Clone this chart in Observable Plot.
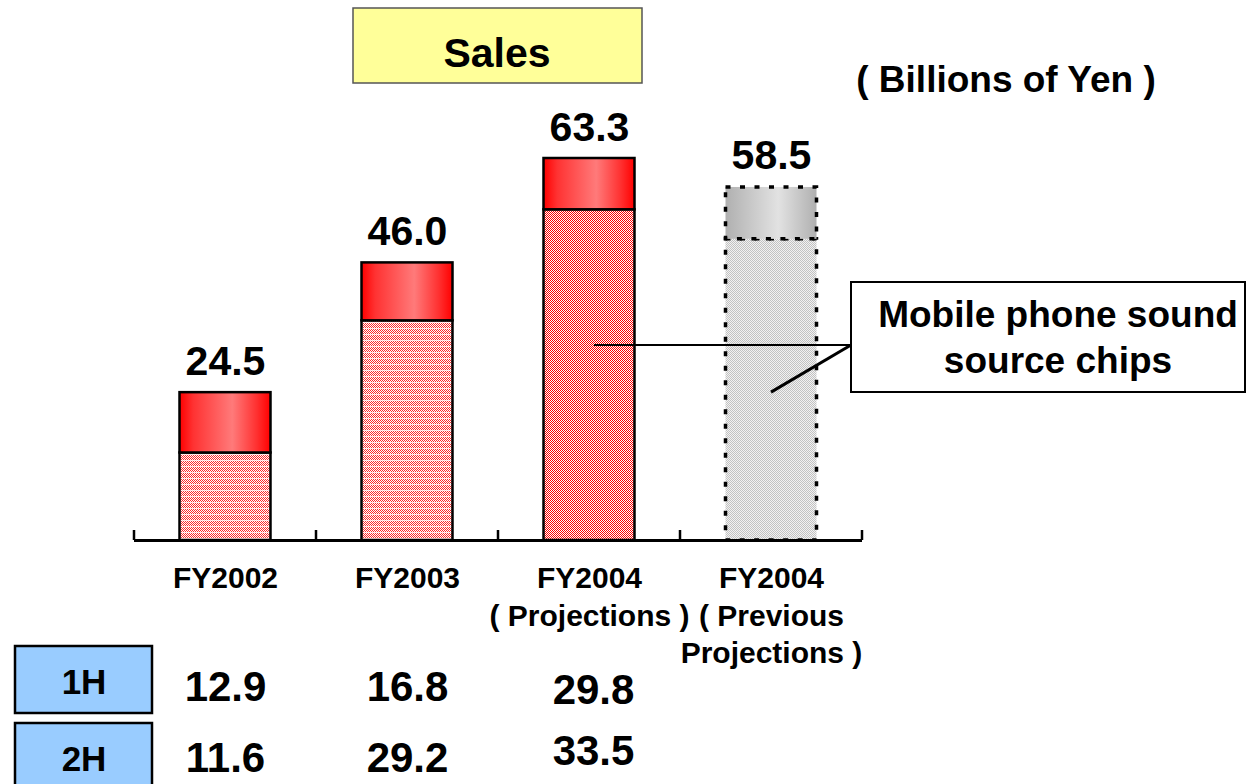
<!DOCTYPE html>
<html><head><meta charset="utf-8">
<script src="https://cdn.jsdelivr.net/npm/d3@7"></script>
<script src="https://cdn.jsdelivr.net/npm/@observablehq/plot@0.6"></script>
<style>
html,body{margin:0;padding:0;background:#fff;}
#chart svg{display:block;}
</style></head><body><div id="chart"></div>
<script>
// ---- data ----
const categories = ["FY2002", "FY2003", "FY2004 (Projections)", "FY2004 (Previous Projections)"];
const tickLabels = ["FY2002", "FY2003", "FY2004\n( Projections )", "FY2004\n( Previous\nProjections )"];
const totals = [24.5, 46.0, 63.3, 58.5];
const soundChips = [14.5, 36.4, 54.8, 49.9];
const firstHalf = [12.9, 16.8, 29.8];
const secondHalf = [11.6, 29.2, 33.5];
const rowLabels = ["1H", "2H"];
const titleText = "Sales";
const unitText = "( Billions of Yen )";
const calloutLines = ["Mobile phone sound", "source chips"];

const rows = categories.map((c, i) => ({category: c, label: tickLabels[i], total: totals[i], chips: soundChips[i]}));
const h1 = firstHalf.map((v, i) => ({category: categories[i], v}));
const h2 = secondHalf.map((v, i) => ({category: categories[i], v}));

const font = "'Liberation Sans', Arial, sans-serif";
const solidStroke = {stroke: "black", strokeWidth: 2.5};
const dashStroke = {stroke: "black", strokeWidth: 3.5, strokeDasharray: "5,9.5"};
const bold = {fontWeight: "bold", fill: "black"};

const plot = Plot.plot({
  width: 1247, height: 784,
  marginLeft: 134, marginRight: 385, marginTop: 158, marginBottom: 244,
  style: {fontFamily: font, background: "white", overflow: "visible"},
  x: {domain: categories, paddingInner: 0.5, paddingOuter: 0.25, round: false, axis: null},
  y: {domain: [0, d3.max(totals)], axis: null},
  marks: [
    // bottom segments (sound source chips)
    Plot.barY(rows.slice(0, 2), {x: "category", y1: () => 0, y2: "chips", fill: "url(#pinkStripe)", ...solidStroke}),
    Plot.barY(rows.slice(2, 3), {x: "category", y1: () => 0, y2: "chips", fill: "url(#redCheck)", ...solidStroke}),
    Plot.barY(rows.slice(3), {x: "category", y1: () => 0, y2: "chips", fill: "url(#grayCheck)", ...dashStroke}),
    // top segments
    Plot.barY(rows.slice(0, 3), {x: "category", y1: "chips", y2: "total", fill: "url(#redGrad)", ...solidStroke}),
    Plot.barY(rows.slice(3), {x: "category", y1: "chips", y2: "total", fill: "url(#grayGrad)", ...dashStroke}),
    // baseline
    Plot.ruleY([0], {stroke: "black", strokeWidth: 3}),
    // total labels
    Plot.text(rows, {x: "category", y: "total", text: d => d.total.toFixed(1), lineAnchor: "bottom", dy: -18, fontSize: 41, ...bold}),
    // category labels
    Plot.text(rows, {x: "category", text: "label", frameAnchor: "bottom", lineAnchor: "top", lineHeight: 1.25, dy: 21, fontSize: 30, ...bold}),
    // 1H / 2H values
    Plot.text(h1.slice(0, 2), {x: "category", text: d => d.v.toFixed(1), frameAnchor: "bottom", lineAnchor: "bottom", dy: 160, fontSize: 42, ...bold}),
    Plot.text(h1.slice(2), {x: "category", text: d => d.v.toFixed(1), frameAnchor: "bottom", lineAnchor: "bottom", dy: 163, dx: 4, fontSize: 42, ...bold}),
    Plot.text(h2.slice(0, 2), {x: "category", text: d => d.v.toFixed(1), frameAnchor: "bottom", lineAnchor: "bottom", dy: 231, fontSize: 42, ...bold}),
    Plot.text(h2.slice(2), {x: "category", text: d => d.v.toFixed(1), frameAnchor: "bottom", lineAnchor: "bottom", dy: 224, dx: 4, fontSize: 42, ...bold})
  ]
});

document.getElementById("chart").appendChild(plot);

// ---- defs: patterns & gradients ----
const svg = d3.select(plot);
const defs = svg.insert("defs", ":first-child");
function check(id, w, h, bg, cells) {
  const p = defs.append("pattern").attr("id", id).attr("width", w).attr("height", h).attr("patternUnits", "userSpaceOnUse");
  p.append("rect").attr("width", w).attr("height", h).attr("fill", bg);
  cells.forEach(([x, y, c]) => p.append("rect").attr("x", x).attr("y", y).attr("width", 1).attr("height", 1).attr("fill", c));
}
check("redCheck", 2, 2, "#ffffff", [[0, 0, "#ff0000"], [1, 1, "#ff0000"]]);
check("grayCheck", 2, 2, "#f2f2f2", [[0, 0, "#c2c2c2"], [1, 1, "#c2c2c2"]]);
{
  const cells = [];
  for (let r = 0; r < 6; r++) {
    if (r === 4) { cells.push([0, r, "#ffd0d0"]); continue; }
    cells.push([(r % 2), r, "#ff2a2a"]);
  }
  check("pinkStripe", 2, 6, "#ffffff", cells);
}
function grad(id, stops) {
  const g = defs.append("linearGradient").attr("id", id).attr("x1", 0).attr("x2", 1).attr("y1", 0).attr("y2", 0);
  stops.forEach(([o, c]) => g.append("stop").attr("offset", o).attr("stop-color", c));
}
grad("redGrad", [[0, "#ff0000"], [0.15, "#ff3232"], [0.58, "#ff7a7a"], [0.85, "#ff3030"], [1, "#ff0000"]]);
grad("grayGrad", [[0, "#b0b0b0"], [0.58, "#e2e2e2"], [1, "#b0b0b0"]]);

// ---- overlays using Plot's scales ----
const xs = plot.scale("x"), ys = plot.scale("y");
const bw = xs.bandwidth, step = xs.step, gap = (step - bw) / 2;
const y0 = ys.apply(0);
const deco = svg.append("g");
// ticks at category boundaries
const bounds = categories.map(c => xs.apply(c) - gap).concat([xs.apply(categories[categories.length - 1]) + bw + gap]);
bounds.forEach(bx => deco.append("line").attr("x1", bx).attr("x2", bx).attr("y1", y0 - 10).attr("y2", y0)
  .attr("stroke", "black").attr("stroke-width", 2.5));

const T = (x, y, s, size, anchor = "middle") => deco.append("text").attr("x", x).attr("y", y)
  .attr("text-anchor", anchor).attr("font-family", font).attr("font-weight", "bold").attr("font-size", size)
  .attr("fill", "black").text(s);

// title box
deco.append("rect").attr("x", 353).attr("y", 8).attr("width", 289).attr("height", 75)
  .attr("fill", "#ffff99").attr("stroke", "#555").attr("stroke-width", 1.5);
T(497, 67, titleText, 41);
// unit
T(1006, 92, unitText, 37);

// callout leader lines
const cx3 = xs.apply(categories[2]) + bw / 2, cx4 = xs.apply(categories[3]) + bw / 2;
const boxL = 851, lineY = ys.apply(32.3);
deco.append("line").attr("x1", cx3 + 5).attr("x2", boxL).attr("y1", lineY).attr("y2", lineY)
  .attr("stroke", "black").attr("stroke-width", 2);
deco.append("line").attr("x1", cx4).attr("y1", ys.apply(24.5)).attr("x2", boxL).attr("y2", lineY)
  .attr("stroke", "black").attr("stroke-width", 3);
// callout box
deco.append("rect").attr("x", boxL).attr("y", 282).attr("width", 394).attr("height", 110)
  .attr("fill", "white").attr("stroke", "black").attr("stroke-width", 2);
T(1058, 327, calloutLines[0], 37);
T(1058, 373, calloutLines[1], 37);

// 1H / 2H header boxes
[[646, 67, 694], [723, 80, 771]].forEach(([by, bh, ty2], i) => {
  deco.append("rect").attr("x", 15).attr("y", by).attr("width", 137).attr("height", bh)
    .attr("fill", "#99ccff").attr("stroke", "black").attr("stroke-width", 2.5);
  T(84, ty2, rowLabels[i], 35);
});
</script></body></html>
